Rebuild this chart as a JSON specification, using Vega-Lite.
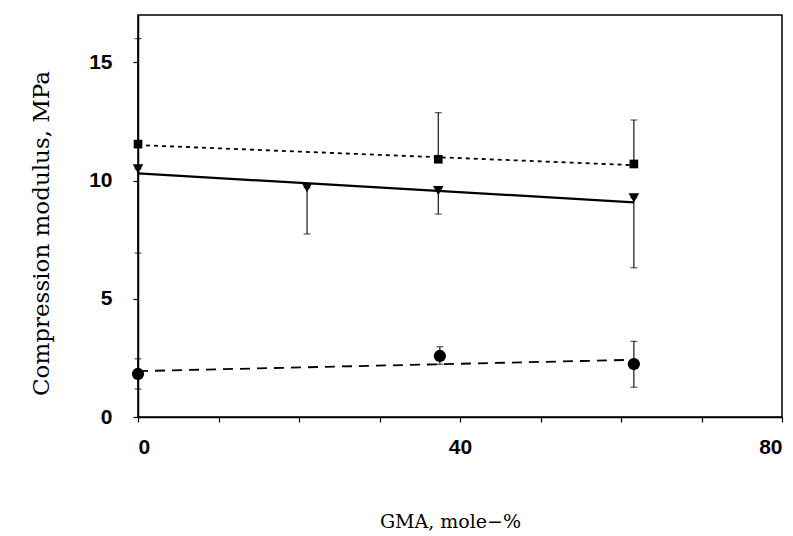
{
  "$schema": "https://vega.github.io/schema/vega-lite/v6.json",
  "width": 644,
  "height": 402,
  "autosize": {"type": "none"},
  "padding": {"left": 138, "top": 15, "right": 11, "bottom": 119},
  "background": "white",
  "config": {
    "view": {"stroke": "black", "strokeWidth": 1.5},
    "axis": {
      "grid": false,
      "domainColor": "black",
      "domainWidth": 1.5,
      "tickColor": "black",
      "tickWidth": 1.2,
      "tickSize": 5,
      "labelColor": "black",
      "labelFont": "Liberation Sans",
      "labelFontSize": 21,
      "labelFontWeight": "bold",
      "titleColor": "black",
      "titleFont": "DejaVu Serif",
      "titleFontWeight": "normal",
      "titleFontSize": 23
    }
  },
  "datasets": {
    "pts": [
      {"series": "sq", "x": 0, "y": 11.54, "lo": 11.54, "hi": 16.0},
      {"series": "sq", "x": 37.3, "y": 10.9, "lo": 10.9, "hi": 12.87},
      {"series": "sq", "x": 61.6, "y": 10.7, "lo": 10.7, "hi": 12.56},
      {"series": "tri", "x": 0, "y": 10.49, "lo": 6.93, "hi": 10.49},
      {"series": "tri", "x": 21, "y": 9.7, "lo": 7.74, "hi": 9.7},
      {"series": "tri", "x": 37.3, "y": 9.57, "lo": 8.58, "hi": 9.57},
      {"series": "tri", "x": 61.6, "y": 9.27, "lo": 6.31, "hi": 9.27},
      {"series": "circ", "x": 0, "y": 1.82, "lo": 1.18, "hi": 2.46},
      {"series": "circ", "x": 37.5, "y": 2.58, "lo": 2.23, "hi": 2.97},
      {"series": "circ", "x": 61.6, "y": 2.24, "lo": 1.26, "hi": 3.2}
    ],
    "fits": [
      {"series": "sq", "x": 0, "y": 11.5},
      {"series": "sq", "x": 61.6, "y": 10.65},
      {"series": "tri", "x": 0, "y": 10.3},
      {"series": "tri", "x": 61.6, "y": 9.08},
      {"series": "circ", "x": 0, "y": 1.94},
      {"series": "circ", "x": 61.6, "y": 2.42}
    ]
  },
  "encoding": {
    "x": {
      "field": "x", "type": "quantitative",
      "scale": {"domain": [0, 80], "nice": false, "zero": false},
      "axis": {
        "title": "GMA,  mole−%",
        "values": [0, 10, 20, 30, 40, 50, 60, 70, 80],
        "labelExpr": "datum.value % 40 === 0 ? datum.label : ''",
        "labelPadding": 14,
        "titleX": 312,
        "titleY": 104,
        "titleBaseline": "middle",
        "titleAnchor": "start",
        "titleAlign": "center",
        "titleLimit": 0,
        "titleFontSize": 19
      }
    },
    "y": {
      "field": "y", "type": "quantitative",
      "scale": {"domain": [0, 17], "nice": false},
      "axis": {
        "title": "Compression modulus, MPa",
        "values": [0, 5, 10, 15],
        "labelPadding": 21,
        "titleX": -97,
        "titleY": 218,
        "titleAngle": -90,
        "titleBaseline": "middle",
        "titleAlign": "center",
        "titleAnchor": "start",
        "titleLimit": 0
      }
    }
  },
  "layer": [
    {
      "data": {"name": "fits"},
      "transform": [{"filter": "datum.series === 'sq'"}],
      "mark": {"type": "line", "color": "black", "strokeWidth": 1.8, "strokeDash": [4, 4]},
      "encoding": {}
    },
    {
      "data": {"name": "fits"},
      "transform": [{"filter": "datum.series === 'tri'"}],
      "mark": {"type": "line", "color": "black", "strokeWidth": 2.2},
      "encoding": {}
    },
    {
      "data": {"name": "fits"},
      "transform": [{"filter": "datum.series === 'circ'"}],
      "mark": {"type": "line", "color": "black", "strokeWidth": 1.8, "strokeDash": [10, 7]},
      "encoding": {}
    },
    {
      "data": {"name": "pts"},
      "mark": {"type": "rule", "color": "black", "strokeWidth": 1.1},
      "encoding": {"y": {"field": "lo", "type": "quantitative"}, "y2": {"field": "hi"}}
    },
    {
      "data": {"name": "pts"},
      "mark": {"type": "tick", "color": "black", "orient": "horizontal", "size": 7, "thickness": 1.1},
      "encoding": {"y": {"field": "lo", "type": "quantitative"}}
    },
    {
      "data": {"name": "pts"},
      "mark": {"type": "tick", "color": "black", "orient": "horizontal", "size": 7, "thickness": 1.1},
      "encoding": {"y": {"field": "hi", "type": "quantitative"}}
    },
    {
      "data": {"name": "pts"},
      "mark": {"type": "point", "filled": true, "color": "black", "opacity": 1},
      "encoding": {
        "shape": {
          "field": "series", "type": "nominal",
          "scale": {"domain": ["sq", "tri", "circ"], "range": ["square", "triangle-down", "circle"]},
          "legend": null
        },
        "size": {
          "field": "series", "type": "nominal",
          "scale": {"domain": ["sq", "tri", "circ"], "range": [75, 150, 115]},
          "legend": null
        }
      }
    }
  ]
}
